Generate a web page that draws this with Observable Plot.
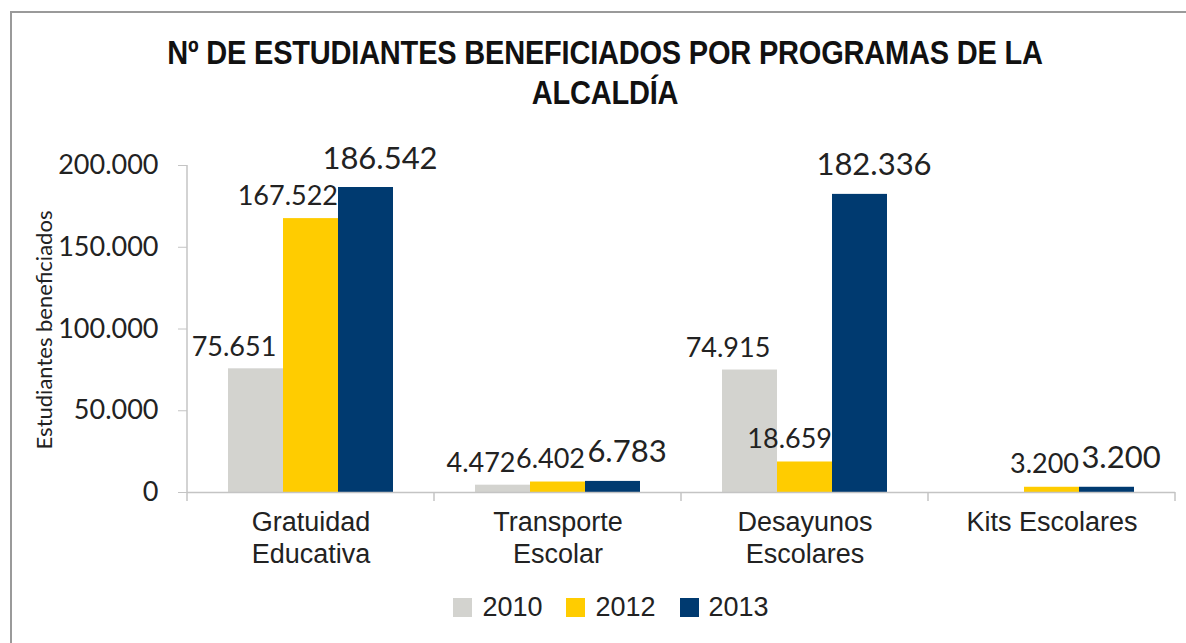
<!DOCTYPE html>
<html>
<head>
<meta charset="utf-8">
<script src="https://cdn.jsdelivr.net/npm/d3@7"></script>
<script src="https://cdn.jsdelivr.net/npm/@observablehq/plot@0.6"></script>
<style>
  body { margin: 0; background: #fff; }
  #wrap { position: relative; width: 1186px; height: 643px; overflow: hidden; background: #fff; }
  #frame { position: absolute; left: 10px; top: 11px; width: 1200px; height: 660px; border: 2px solid #9a9a9a; box-sizing: border-box; }
  #title { position: absolute; top: 33px; left: 12px; width: 1186px; text-align: center; font-family: "Liberation Sans", Arial, sans-serif; font-weight: bold; font-size: 29px; line-height: 35px; color: #111; transform: scaleY(1.15); transform-origin: top; letter-spacing: -0.2px; }
  #chart { position: absolute; top: 140px; left: 0; }
  #ylabel { position: absolute; left: 43px; top: 330px; transform: translate(-50%, -50%) rotate(-90deg); font-family: Lato, sans-serif; font-size: 22px; color: #222; white-space: nowrap; }
  #legend { position: absolute; top: 592px; left: 0; width: 1222px; display: flex; justify-content: center; gap: 24px; font-family: "Liberation Sans", Arial, sans-serif; font-size: 27px; color: #222; }
  .item { display: flex; align-items: center; gap: 10px; }
  .sw { width: 19px; height: 19px; display: inline-block; }
</style>
</head>
<body>
<div id="wrap">
  <div id="frame"></div>
  <div id="title">Nº DE ESTUDIANTES BENEFICIADOS POR PROGRAMAS DE LA<br>ALCALDÍA</div>
  <div id="chart"></div>
  <div id="ylabel">Estudiantes beneficiados</div>
  <div id="legend"></div>
</div>
<script>
const categories = ["Gratuidad Educativa", "Transporte Escolar", "Desayunos Escolares", "Kits Escolares"];
const categoryLabels = ["Gratuidad\nEducativa", "Transporte\nEscolar", "Desayunos\nEscolares", "Kits Escolares"];
const years = ["2010", "2012", "2013"];
const values2010 = [75651, 4472, 74915, null];
const values2012 = [167522, 6402, 18659, 3200];
const values2013 = [186542, 6783, 182336, 3200];
const colors = ["#D3D3CF", "#FFCC00", "#003A70"];
const yTicks = [0, 50000, 100000, 150000, 200000];

const series = {"2010": values2010, "2012": values2012, "2013": values2013};
const data = [];
years.forEach(yr => categories.forEach((c, i) => {
  const v = series[yr][i];
  if (v != null) data.push({cat: c, year: yr, value: v});
}));

const loc = d3.formatLocale({decimal: ",", thousands: ".", grouping: [3], currency: ["", ""]});
const fmt = loc.format(",");
const labelOf = new Map(categories.map((c, i) => [c, categoryLabels[i]]));

const labelStyle = {
  "2010": {dx: -22, dy: -13, fontSize: 27, textAnchor: "middle"},
  "2012": {dx: 27, dy: -14, fontSize: 27, textAnchor: "end"},
  "2013": {dx: 14, dy: -19, fontSize: 31, textAnchor: "middle"}
};

const textMarks = years.map(yr => Plot.text(data.filter(d => d.year === yr), {
  fx: "cat", x: "year", y: "value", text: d => fmt(d.value),
  lineAnchor: "bottom", textAnchor: labelStyle[yr].textAnchor,
  dx: labelStyle[yr].dx, dy: labelStyle[yr].dy,
  fontSize: labelStyle[yr].fontSize, fontFamily: "Lato, sans-serif", fill: "#222"
}));

const plot = Plot.plot({
  width: 1186,
  height: 440,
  marginTop: 25,
  marginBottom: 88,
  marginLeft: 187,
  marginRight: 11,
  style: {background: "transparent", overflow: "visible"},
  fx: {domain: categories, padding: 0, label: null},
  x: {domain: years, paddingInner: 0, paddingOuter: 0.745, axis: null},
  y: {domain: [0, 200000], axis: null},
  color: {domain: years, range: colors},
  marks: [
    Plot.barY(data, {fx: "cat", x: "year", y: "value", fill: "year"}),
    Plot.ruleY([0], {stroke: "#c4c4c4", strokeWidth: 1.5}),
    Plot.axisY({ticks: yTicks, tickFormat: fmt, tickSize: 9, tickPadding: 20, stroke: "#c4c4c4", fill: "#222", fontSize: 27, fontFamily: "Lato, sans-serif", label: null}),
    Plot.axisFx({anchor: "bottom", tickSize: 0, tickPadding: 15, tickFormat: d => labelOf.get(d), fontSize: 27, lineHeight: 1.2, fontFamily: "Liberation Sans, Arial, sans-serif", fill: "#222", lineAnchor: "top", label: null}),
    ...textMarks
  ]
});
document.getElementById("chart").appendChild(plot);

// axis line and category boundary ticks from the plot's own scales
const fxS = plot.scale("fx");
const yS = plot.scale("y");
const svg = d3.select(plot);
const y0 = yS.apply(0), yTop = yS.apply(200000);
const x0 = fxS.apply(categories[0]);
svg.append("line").attr("x1", x0).attr("x2", x0).attr("y1", yTop).attr("y2", y0)
  .attr("stroke", "#c4c4c4").attr("stroke-width", 1.5);
const bounds = categories.map(c => fxS.apply(c)).concat([fxS.apply(categories[categories.length - 1]) + fxS.bandwidth]);
bounds.forEach(b => svg.append("line").attr("x1", b).attr("x2", b).attr("y1", y0).attr("y2", y0 + 9)
  .attr("stroke", "#c4c4c4").attr("stroke-width", 1.5));

// legend
const legend = d3.select("#legend");
years.forEach((yr, i) => {
  const it = legend.append("div").attr("class", "item");
  it.append("span").attr("class", "sw").style("background", colors[i]);
  it.append("span").text(yr);
});
</script>
</body>
</html>
